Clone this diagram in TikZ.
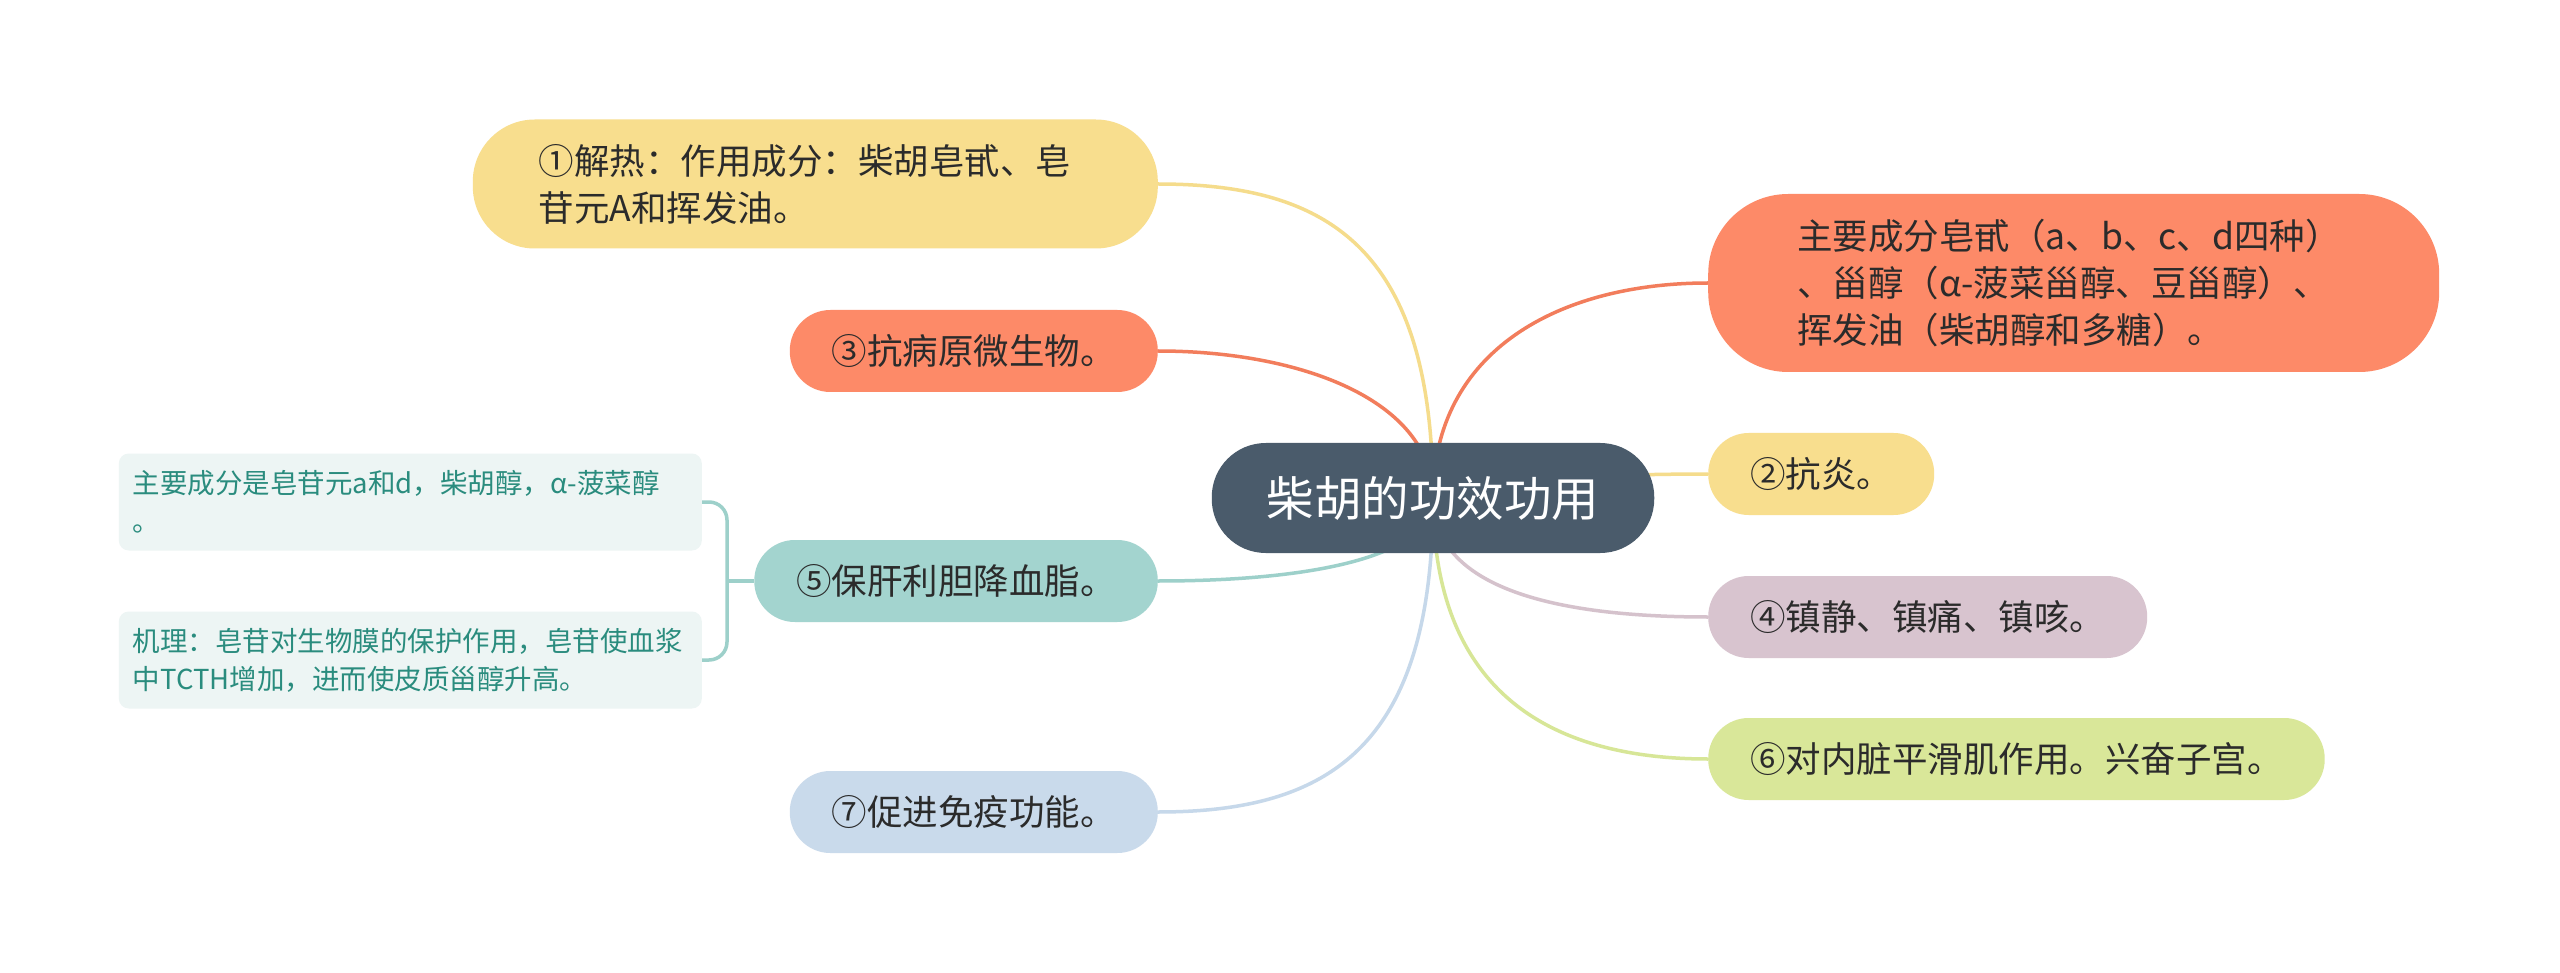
\documentclass[tikz,border=0pt]{standalone}
\usepackage{fontspec}
\setmainfont{Noto Sans CJK SC}
\usetikzlibrary{backgrounds}

\definecolor{rootfill}{HTML}{4A5B6B}
\definecolor{yellowfill}{HTML}{F8DE8E}
\definecolor{orangefill}{HTML}{FD8A68}
\definecolor{mauvefill}{HTML}{D8C4CF}
\definecolor{tealfill}{HTML}{A3D4CF}
\definecolor{greenfill}{HTML}{D9E799}
\definecolor{bluefill}{HTML}{C9DAEB}
\definecolor{leaffill}{HTML}{EDF5F4}
\definecolor{leaftext}{HTML}{2A8C7E}
\definecolor{topictext}{HTML}{2B2B2B}
\definecolor{yellowline}{HTML}{F5DC8C}
\definecolor{orangeline}{HTML}{F27D5C}
\definecolor{mauveline}{HTML}{D5C2CC}
\definecolor{tealline}{HTML}{9DD0CA}
\definecolor{greenline}{HTML}{D7E697}
\definecolor{blueline}{HTML}{C6D8EA}

\tikzset{
  rootbox/.style={fill=rootfill, text=white, rounded corners=54pt, minimum height=110pt,
    inner xsep=55pt, inner ysep=0pt, font=\fontsize{47.5pt}{57pt}\selectfont},
  topic/.style={fill=#1, text=topictext, rounded corners=40.5pt, minimum height=82pt,
    inner xsep=42pt, inner ysep=0pt, font=\fontsize{35.5pt}{47pt}\selectfont},
  widetopic/.style={topic=#1, text width=553pt, align=left, inner xsep=66pt,
    rounded corners=62pt, minimum height=129pt},
  leaf/.style={fill=leaffill, text=leaftext, rounded corners=10pt, text width=555pt,
    align=left, inner xsep=14pt, inner ysep=0pt, minimum height=97pt,
    font=\fontsize{27.5pt}{38pt}\selectfont},
  branch/.style={draw=#1, line width=3.5pt}
}

\begin{document}
\begin{tikzpicture}[x=1pt, y=-1pt]
  \useasboundingbox (0,0) rectangle (2560,973);

  \node[rootbox] (root) at (1433,498) {柴胡的功效功用};

  \node[widetopic=yellowfill, anchor=east] (heat) at (1158,184) {①解热：作用成分：柴胡皂甙、皂\\苷元A和挥发油。};
  \node[topic=orangefill, anchor=east] (microbe) at (1158,351) {③抗病原微生物。};
  \node[topic=tealfill, anchor=east] (liver) at (1158,581) {⑤保肝利胆降血脂。};
  \node[topic=bluefill, anchor=east] (immune) at (1158,812) {⑦促进免疫功能。};

  \node[widetopic=orangefill, anchor=west, inner xsep=89pt, rounded corners=80pt, minimum height=178pt] (parts) at (1708,283) {主要成分皂甙（a、b、c、d四种）\\、甾醇（α-菠菜甾醇、豆甾醇）、\\挥发油（柴胡醇和多糖）。};
  \node[topic=yellowfill, anchor=west] (inflam) at (1708,474) {②抗炎。};
  \node[topic=mauvefill, anchor=west] (calm) at (1708,617) {④镇静、镇痛、镇咳。};
  \node[topic=greenfill, anchor=west] (muscle) at (1708,759) {⑥对内脏平滑肌作用。兴奋子宫。};

  \node[leaf, anchor=east] (sapo) at (702,502) {主要成分是皂苷元a和d，柴胡醇，α-菠菜醇\\。};
  \node[leaf, anchor=east] (mech) at (702,660) {机理：皂苷对生物膜的保护作用，皂苷使血浆\\中TCTH增加，进而使皮质甾醇升高。};
  \coordinate (brace) at (727,581);

  \begin{scope}[on background layer]
    \fill[white] (0,0) rectangle (2560,973);
    \draw[branch=yellowline] (root.center) .. controls +(0,-248) and +(172,0) .. (heat.east);
    \draw[branch=orangeline] (root.center) .. controls +(0,-98) and +(142,0) .. (microbe.east);
    \draw[branch=tealline] (root.center) .. controls +(0,62) and +(142,0) .. (liver.east);
    \draw[branch=blueline] (root.center) .. controls +(0,248) and +(172,0) .. (immune.east);
    \draw[branch=orangeline] (root.center) .. controls +(0,-148) and +(-148,0) .. (parts.west);
    \draw[branch=yellowline] (root.center) .. controls +(0,-18) and +(-100,0) .. (inflam.west);
    \draw[branch=mauveline] (root.center) .. controls +(0,92) and +(-148,0) .. (calm.west);
    \draw[branch=greenline] (root.center) .. controls +(0,202) and +(-148,0) .. (muscle.west);
    \draw[branch=tealline, rounded corners=18pt] (sapo.east) -| (brace) |- (mech.east);
    \draw[branch=tealline] (brace) -- (liver.west);
  \end{scope}
\end{tikzpicture}
\end{document}
